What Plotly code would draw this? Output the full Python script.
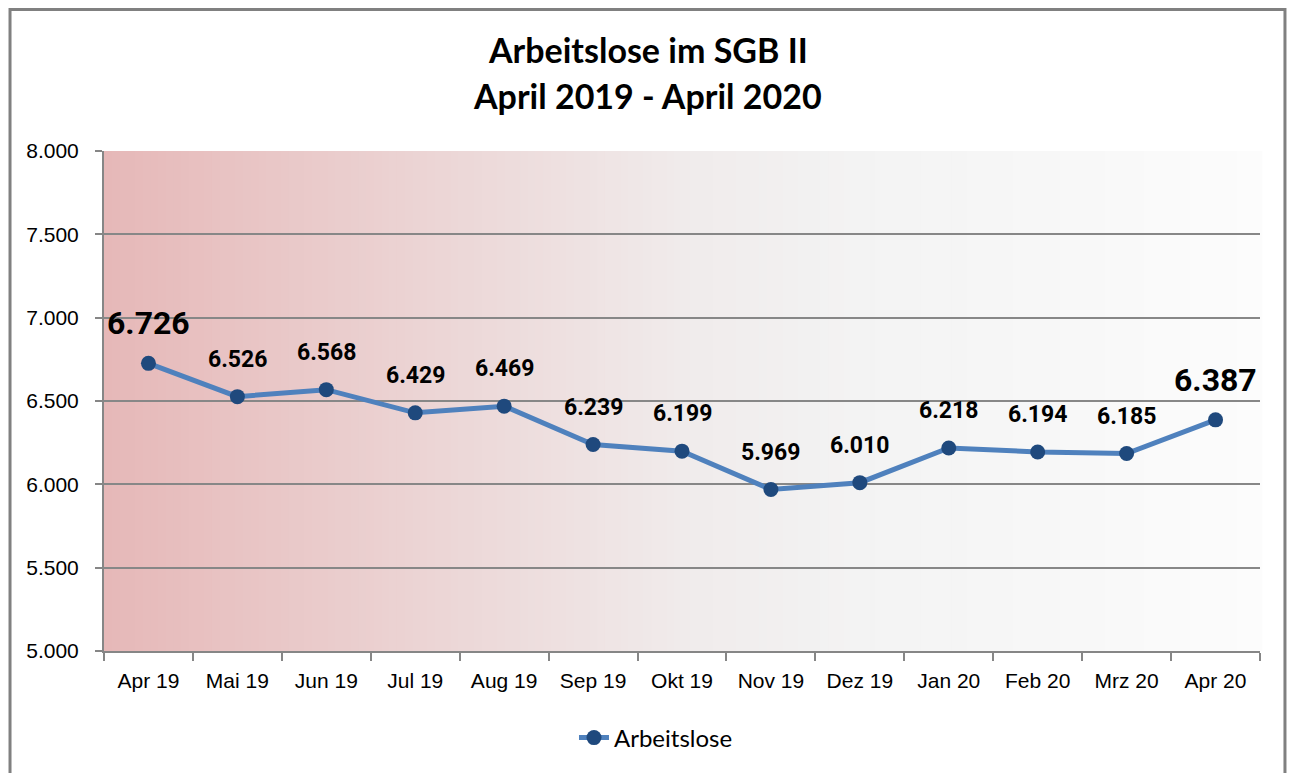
import plotly.graph_objects as go

months = ["Apr 19", "Mai 19", "Jun 19", "Jul 19", "Aug 19", "Sep 19", "Okt 19",
          "Nov 19", "Dez 19", "Jan 20", "Feb 20", "Mrz 20", "Apr 20"]
arbeitslose = [6726, 6526, 6568, 6429, 6469, 6239, 6199, 5969, 6010, 6218, 6194, 6185, 6387]
label_sizes = [32, 23, 23, 23, 23, 23, 23, 23, 23, 23, 23, 23, 32]
y_ticks = [5000, 5500, 6000, 6500, 7000, 7500, 8000]

fig = go.Figure()
fig.add_trace(go.Scatter(
    x=months, y=arbeitslose, name="Arbeitslose",
    mode="lines+markers",
    line=dict(color="#4F81BD", width=5),
    marker=dict(color="#1F497D", size=15),
))

annotations = []
for m, v, s in zip(months, arbeitslose, label_sizes):
    annotations.append(dict(
        x=m, y=v, xref="x", yref="y", text="<b>" + f"{v:,}".replace(",", ".") + "</b>",
        showarrow=False, yanchor="bottom", xanchor="center", yshift=19 if s > 30 else 22,
        font=dict(family="Roboto, Liberation Sans, Arial", size=s, color="black")))

# gradient background for plot area
stops = [(0.0, (230, 184, 184)), (0.5, (240, 235, 235)), (0.65, (243, 243, 243)), (1.0, (252, 252, 252))]
def col(t):
    for (a, ca), (b, cb) in zip(stops[:-1], stops[1:]):
        if a <= t <= b:
            f = (t - a) / (b - a)
            return "rgb(%d,%d,%d)" % tuple(round(ca[i] + f * (cb[i] - ca[i])) for i in range(3))
    return "rgb(252,252,252)"
n = 150
shapes = []
for i in range(n):
    shapes.append(dict(type="rect", xref="paper", yref="paper", x0=i / n, x1=(i + 1) / n + 0.002,
                       y0=0, y1=1, fillcolor=col((i + 0.5) / n), line=dict(width=0), layer="below"))
# outer frame
shapes.append(dict(type="rect", xref="paper", yref="paper", x0=-0.0813, x1=1.0216, y0=-0.3, y1=1.283,
                   line=dict(color="#808080", width=3), fillcolor="rgba(0,0,0,0)", layer="above"))

title_font = dict(family="Lato, Open Sans, sans-serif", size=34, color="black")
annotations += [
    dict(text="<b>Arbeitslose im SGB II</b>", xref="paper", yref="paper", x=0.4702, y=1.204,
         yanchor="middle", showarrow=False, font=title_font),
    dict(text="<b>April 2019 - April 2020</b>", xref="paper", yref="paper", x=0.4702, y=1.11,
         yanchor="middle", showarrow=False, font=title_font),
]

fig.update_layout(
    width=1287, height=765,
    margin=dict(l=96, r=35, t=143, b=122),
    paper_bgcolor="white", plot_bgcolor="rgba(0,0,0,0)",
    separators=",.",
    shapes=shapes,
    annotations=annotations,
    showlegend=True,
    legend=dict(orientation="h", x=0.4775, xanchor="center", y=-0.174, yanchor="middle",
                font=dict(family="Lato, Open Sans, sans-serif", size=24, color="black")),
)
fig.update_xaxes(
    type="category", range=[-0.5, len(months) - 0.5],
    showgrid=False, showline=True, linecolor="#868686", linewidth=2,
    ticks="outside", tickson="boundaries", ticklen=8, tickcolor="#868686", tickwidth=2,
    ticklabelstandoff=10,
    tickfont=dict(family="Liberation Sans, Arial", size=21, color="black"),
)
fig.update_yaxes(
    range=[5000, 8000], tickvals=y_ticks, tickformat=",.0f",
    showgrid=True, gridcolor="#878787", gridwidth=2, zeroline=False,
    showline=True, linecolor="#868686", linewidth=2,
    ticks="outside", ticklen=7, tickcolor="#868686", tickwidth=2,
    ticklabelstandoff=12,
    tickfont=dict(family="Liberation Sans, Arial", size=21, color="black"),
)

fig.write_html("out.html")
